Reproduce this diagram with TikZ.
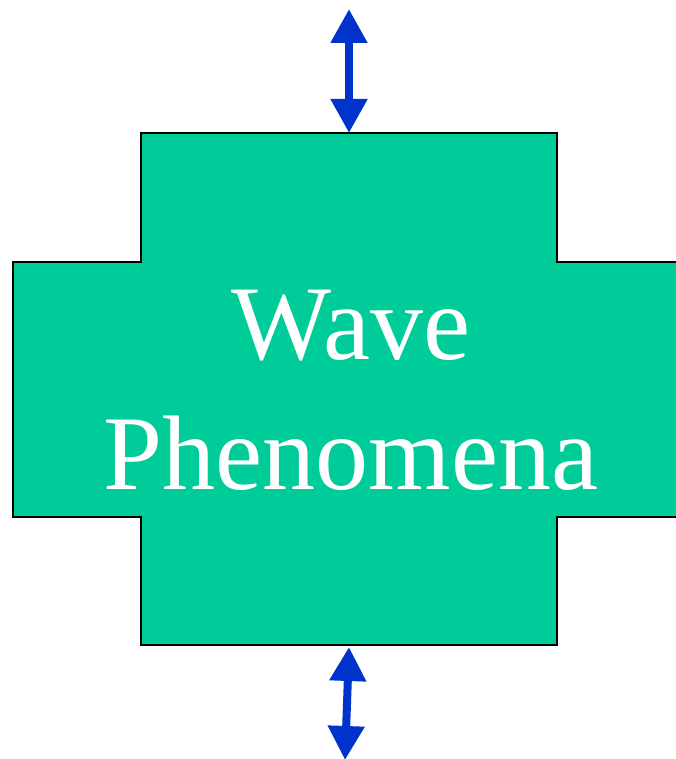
\documentclass[tikz,border=0pt]{standalone}
\usepackage{fontspec}
\setmainfont{Liberation Serif}
\usepackage{tikz}
\usetikzlibrary{positioning}
\usetikzlibrary{calc,arrows.meta}
\definecolor{wp-teal}{HTML}{00CC99}
\definecolor{wp-blue}{HTML}{0033CC}

\begin{document}
\begin{tikzpicture}[
    x=1pt, y=1pt,
    >={Triangle[width=35pt, length=34pt]}
  ]

  % Global Style Definitions
  \tikzset{
    block/.style={draw=black, fill=wp-teal, line width=1.6pt},
    link/.style={<->, wp-blue, line width=8pt},
    label/.style={text=white, align=center, font=\fontsize{106}{130}\selectfont}
  }

  \useasboundingbox (0,0) rectangle (676,759);
  \clip (0,0) rectangle (676,759);

  % Cross-shaped block
  \draw[block] (141,626) -- (557,626) -- (557,497) -- (700,497) -- (700,242)
    -- (557,242) -- (557,114) -- (141,114) -- (141,242) -- (13,242)
    -- (13,497) -- (141,497) -- cycle;

  % Anchor points of the arrows
  \coordinate (top) at (349,626);
  \coordinate (topend) at (349,750);
  \coordinate (bottom) at (349,112);
  \coordinate (bottomend) at (345,-1);

  % Text
  \node (wave) [label] at (351,369) {Wave\\Phenomena};

  % Exchange arrows
  \draw[link] (topend) -- (top);
  \draw[link] (bottom) -- (bottomend);

\end{tikzpicture}
\end{document}
